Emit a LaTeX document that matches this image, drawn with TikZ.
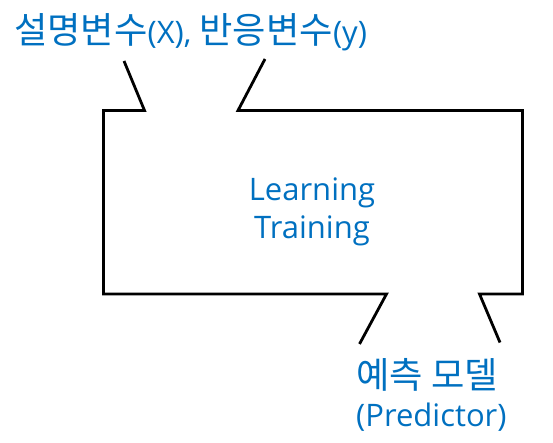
\documentclass[tikz,border=0pt]{standalone}
\usepackage{fontspec}
\setmainfont{Open Sans}
\newfontfamily\kr[Scale=1.17]{Noto Sans CJK KR}
\definecolor{txtblue}{HTML}{0070C0}
\begin{document}
\begin{tikzpicture}[x=1pt,y=-1pt,
  lbl/.style={text=txtblue,inner sep=0pt,font=\fontsize{31}{38}\selectfont},
  outline/.style={draw=black,line width=2.8pt,line join=miter}]
\useasboundingbox (0,0) rectangle (553,443);
\coordinate (tl) at (103.5,110.5);
\coordinate (n1a) at (144.5,110.5);
\coordinate (n1b) at (124,61);
\coordinate (n2a) at (238,110.5);
\coordinate (n2b) at (265,59);
\coordinate (tr) at (522.5,110.5);
\coordinate (br) at (522.5,294);
\coordinate (n3a) at (479.5,294);
\coordinate (n3b) at (500,342.5);
\coordinate (n4a) at (386.5,294);
\coordinate (n4b) at (359.5,344);
\coordinate (bl) at (103.5,294);
\draw[outline] (n1b) -- (n1a) -- (tl) -- (bl) -- (n4a) -- (n4b);
\draw[outline] (n2b) -- (n2a) -- (tr) -- (br) -- (n3a) -- (n3b);
\node[lbl,anchor=west] (inp) at (14,32) {{\kr 설명변수}(X), {\kr 반응변수}(y)};
\node[lbl,align=center] (proc) at (312,212) {Learning\\Training};
\node[lbl,align=left,anchor=west] (out) at (356,395) {{\kr 예측 모델}\\(Predictor)};
\end{tikzpicture}
\end{document}
